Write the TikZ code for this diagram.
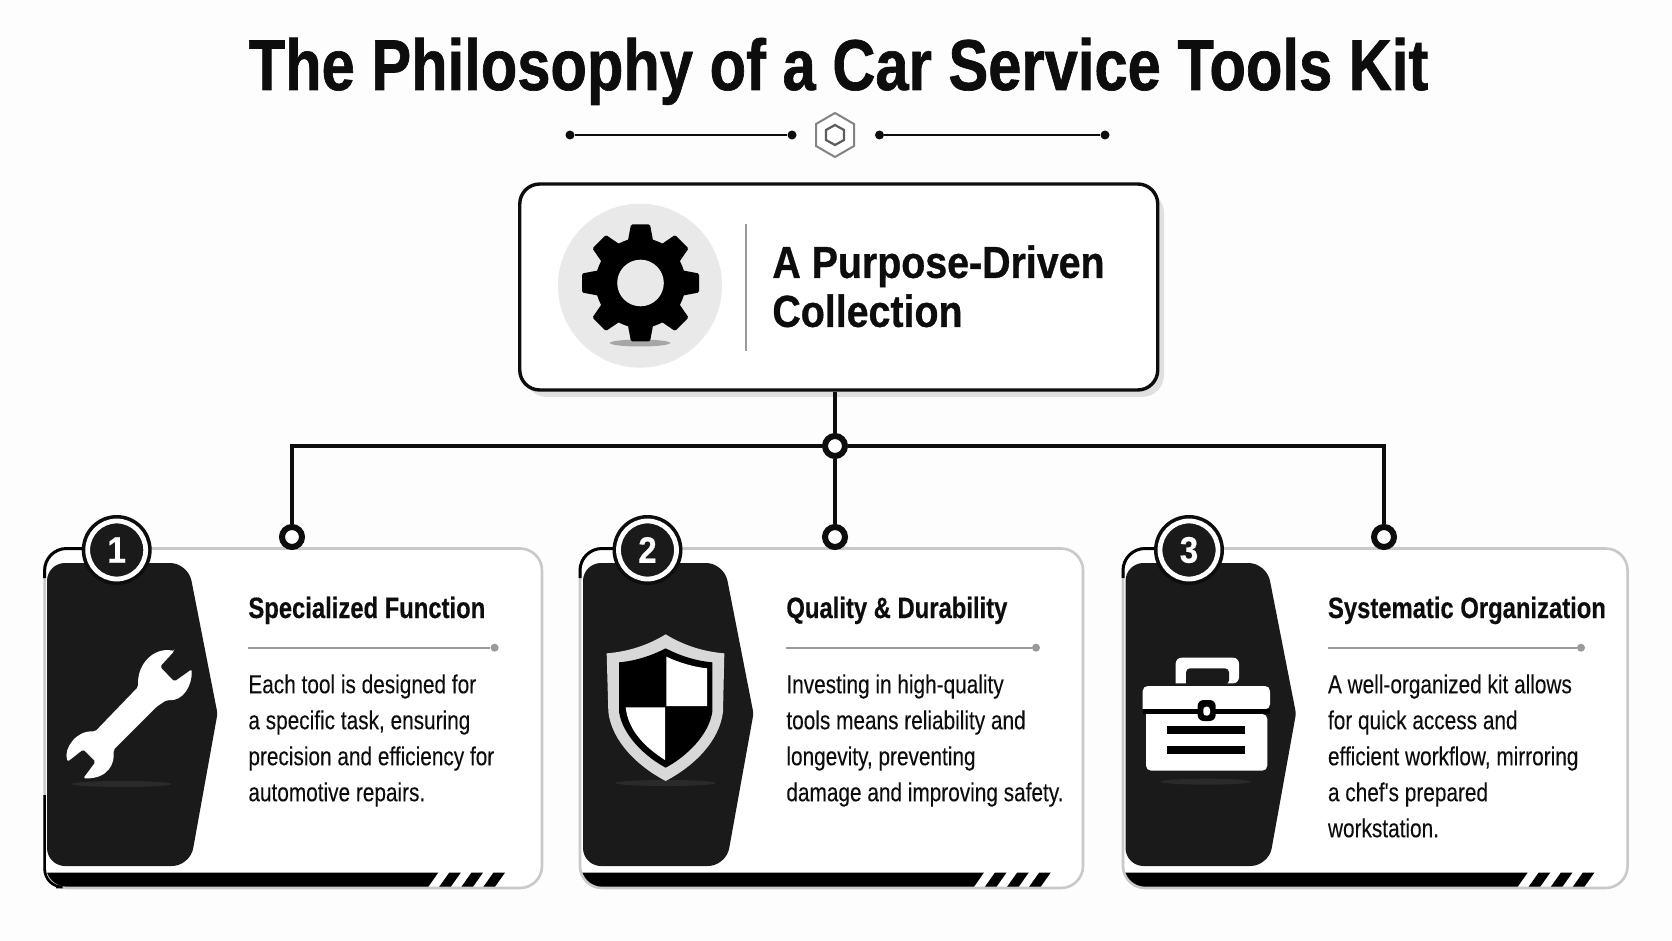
\documentclass[tikz,border=0pt]{standalone}
\usepackage{fontspec}
\usetikzlibrary{calc}
\setmainfont{Liberation Sans}
\newfontfamily\titlef[FakeStretch=.829,BoldFeatures={FakeBold=.9}]{Liberation Sans}
\newfontfamily\headf[FakeStretch=.81,BoldFeatures={FakeBold=.4}]{Liberation Sans}
\newfontfamily\mainf[FakeStretch=.878,BoldFeatures={FakeBold=.7}]{Liberation Sans}
\newfontfamily\badgef[FakeStretch=.9,BoldFeatures={FakeBold=.3}]{Liberation Sans}
\newfontfamily\bodyf[FakeStretch=.8,FakeBold=.1]{Liberation Sans}
\definecolor{pagebg}{HTML}{FDFDFD}
\definecolor{panelc}{HTML}{1A1A1A}
\definecolor{edgec}{HTML}{C9C9C9}
\definecolor{rulec}{HTML}{9A9A9A}
\definecolor{ink}{HTML}{0D0D0D}
\definecolor{soft}{HTML}{E9E9E9}
\definecolor{shieldc}{HTML}{D8D8D8}
\definecolor{glow}{HTML}{2A2A2A}
\tikzset{
  linkline/.style={draw=ink,line width=2.3pt},
  joint/.style={circle,draw=ink,fill=white,line width=3pt,minimum size=10pt,inner sep=0pt},
  orndot/.style={circle,fill=ink,minimum size=4.5pt,inner sep=0pt},
  ornline/.style={draw=ink,line width=1.2pt},
  ruledot/.style={circle,fill=rulec,minimum size=4pt,inner sep=0pt},
  ruleline/.style={draw=rulec,line width=1.1pt},
  headtext/.style={anchor=base west,inner sep=0pt,font=\headf\bfseries\fontsize{14.7}{18}\selectfont,text=ink},
  bodytext/.style={anchor=north west,inner sep=0pt,align=left,font=\bodyf\fontsize{13}{18}\selectfont,text=ink},
  badgeo/.style={circle,fill=ink,minimum size=35pt,inner sep=0pt},
  badgei/.style={circle,fill=panelc,draw=white,line width=2.4pt,minimum size=29pt,inner sep=0pt,text=white,font=\badgef\bfseries\fontsize{18.5}{18}\selectfont},
}
% card shell: #1 card left, #2 card right, #3 panel left, #4 bar end
\newcommand{\CardShell}[4]{%
  \fill[white,rounded corners=11pt] (#1,548.5) rectangle (#2,888);
  \begin{scope}
    \clip[rounded corners=11pt] (#1,548.5) rectangle (#2,888);
    \fill[black] (#1,872.5) -- (#4,872.5) -- ($(#4,887.5)+(-10.5,0)$) -- (#1,887.5) -- cycle;
    \foreach \s in {11,33.2,55.2}{
      \fill[black] ($(#4,872.5)+(\s,0)$) -- ++(11.6,0) -- ++(-10.6,15) -- ++(-11.6,0) -- cycle;
    }
  \end{scope}
  \draw[edgec,line width=1.3pt,rounded corners=11pt] (#1,548.5) rectangle (#2,888);
  \draw[black,line width=1.5pt,rounded corners=11pt] (#1,578) -- (#1,548.5) -- ($(#1,548.5)+(50,0)$);
  \fill[panelc,rounded corners=9pt] (#3,700) -- (#3,563)
     -- ($(#3,563)+(141,0)$) [rounded corners=1.5pt] -- ($(#3,713.5)+(170.5,0)$) [rounded corners=9pt]
     -- ($(#3,866)+(143,0)$) -- (#3,866) -- cycle;
}
\begin{document}
\begin{tikzpicture}[x=0.5pt,y=-0.5pt]
\useasboundingbox (0,0) rectangle (1672,941);
\fill[pagebg] (0,0) rectangle (1672,941);

% title
\node[anchor=base,inner sep=0pt,text=ink,font=\titlef\bfseries\fontsize{36}{40}\selectfont] (title) at (838.5,90) {The Philosophy of a Car Service Tools Kit};

% ornament
\node[orndot] (ol1) at (570,135) {};
\node[orndot] (ol2) at (792,135) {};
\node[orndot] (or1) at (879.5,135) {};
\node[orndot] (or2) at (1105,135) {};
\draw[ornline] (ol1) -- (ol2);
\draw[ornline] (or1) -- (or2);
\draw[rulec!85!black,line width=1pt,fill=white] (835,113) -- (854,124) -- (854,146) -- (835,157) -- (816,146) -- (816,124) -- cycle;
\draw[rulec!60!black,line width=1.1pt,fill=white] (835,125) -- (844,130) -- (844,140) -- (835,145) -- (826,140) -- (826,130) -- cycle;

% main box
\fill[black!12,rounded corners=11pt] (525,191) rectangle (1164,397);
\node[draw=ink,fill=white,line width=1.7pt,rounded corners=10pt,minimum width=319pt,minimum height=103pt,inner sep=0pt] (mainbox) at (838.75,287) {};
\fill[soft] (640,285.7) circle[radius=82];
\fill[black!35] (640,343) ellipse[x radius=30,y radius=3.5];
\fill[black] (640.5,283) circle[radius=45];
\foreach \a in {0,45,...,315}{
  \fill[black,rounded corners=0.7pt,rotate around={\a:(640.5,283)}] (627.5,243) -- (631,224.5) -- (650,224.5) -- (653.5,243) -- cycle;
}
\fill[soft] (640.5,283) circle[radius=23.3];
\draw[rulec,line width=0.8pt] (746,224) -- (746,351);
\node[anchor=north west,inner sep=0pt,align=left,text=ink,font=\mainf\bfseries\fontsize{22.4}{24.5}\selectfont] (maintext) at (772,245) {A Purpose-Driven\\Collection};

% cards
\CardShell{44.6}{542}{47}{438.3}
\draw[black,line width=1.3pt,rounded corners=9pt] (44.6,795) -- (44.6,887) -- (56,887);
\CardShell{580}{1083}{583}{984}
\CardShell{1123}{1627.6}{1125.5}{1527.7}

% card 1 content
\node[badgeo] (b1o) at (116.7,550) {};
\node[badgei] (b1) at (116.7,550) {1};
\fill[glow] (121.7,784) ellipse[x radius=50,y radius=3];
\begin{scope}[shift={(55,635)},scale=1/3]
\fill[white,rounded corners=1pt] (358,48) -- (315,95) -- (358,140) -- (410,103) .. controls (412,150) and (385,200) .. (335,195)
  -- (305,215) -- (175,345) .. controls (180,385) and (160,432) .. (85,430) -- (122,380) -- (85,343) -- (38,380)
  .. controls (25,340) and (65,285) .. (120,290) -- (250,155) .. controls (245,90) and (295,35) .. (358,48) -- cycle;
\end{scope}
\node[headtext] (h1) at (248,618) {Specialized Function};
\coordinate (r1a) at (248,647.7);
\node[ruledot] (r1b) at (494.6,647.7) {};
\draw[ruleline] (r1a) -- (r1b);
\node[bodytext] (t1) at (248,674) {Each tool is designed for\\a specific task, ensuring\\precision and efficiency for\\automotive repairs.};

% card 2 content
\node[badgeo] (b2o) at (647.5,550) {};
\node[badgei] (b2) at (647.5,550) {2};
\fill[glow] (665.7,783) ellipse[x radius=50,y radius=3];
\begin{scope}[shift={(595,625)},scale=1/3]
\fill[shieldc] (212,28) .. controls (160,60) and (100,80) .. (35,85) -- (40,260) .. controls (50,350) and (130,425) .. (212,468)
  .. controls (294,425) and (374,350) .. (384,260) -- (388,85) .. controls (324,80) and (264,60) .. (212,28) -- cycle;
\fill[black] (212,70) .. controls (170,92) and (120,108) .. (72,112) -- (72,260) .. controls (82,330) and (150,395) .. (212,428)
  .. controls (274,395) and (342,330) .. (352,260) -- (352,112) .. controls (304,108) and (254,92) .. (212,70) -- cycle;
\fill[white] (214,95) .. controls (250,112) and (295,126) .. (336,130) -- (336,243) -- (214,243) -- cycle;
\fill[white] (92,247) -- (210,247) -- (210,405) .. controls (155,370) and (100,320) .. (92,247) -- cycle;
\end{scope}
\node[headtext] (h2) at (786,618) {Quality \& Durability};
\coordinate (r2a) at (786,647.7);
\node[ruledot] (r2b) at (1036,647.7) {};
\draw[ruleline] (r2a) -- (r2b);
\node[bodytext] (t2) at (786,674) {Investing in high-quality\\tools means reliability and\\longevity, preventing\\damage and improving safety.};

% card 3 content
\node[badgeo] (b3o) at (1189,550) {};
\node[badgei] (b3) at (1189,550) {3};
\fill[glow] (1206,781.7) ellipse[x radius=45,y radius=3];
\begin{scope}[shift={(1130,645)},scale=1/3]
\fill[white,rounded corners=3pt] (137,115) -- (137,38) -- (327,38) -- (327,115) [sharp corners] -- cycle;
\fill[panelc,rounded corners=2pt] (168,118) -- (168,70) -- (297,70) -- (297,118) [sharp corners] -- cycle;
\fill[white,rounded corners=2.5pt] (38,193) -- (38,123) -- (420,123) -- (420,193) [sharp corners] -- cycle;
\fill[black] (38,193) rectangle (420,207);
\fill[white,rounded corners=2.5pt] (48,207) -- (48,377) -- (412,377) -- (412,207) [sharp corners] -- cycle;
\fill[black] (110,243) rectangle (346,266);
\fill[black] (110,303) rectangle (346,326);
\fill[black,rounded corners=3pt] (203,165) rectangle (257,228);
\fill[white,rounded corners=1.5pt] (220,185) rectangle (240,212);
\end{scope}
\node[headtext] (h3) at (1327.6,618) {Systematic Organization};
\coordinate (r3a) at (1327.6,647.7);
\node[ruledot] (r3b) at (1581,647.7) {};
\draw[ruleline] (r3a) -- (r3b);
\node[bodytext] (t3) at (1327.6,674) {A well-organized kit allows\\for quick access and\\efficient workflow, mirroring\\a chef's prepared\\workstation.};

% connectors
\node[joint] (hub) at (835,446) {};
\node[joint] (n1) at (292,537) {};
\node[joint] (n2) at (835,537) {};
\node[joint] (n3) at (1384,537) {};
\draw[linkline] (hub |- mainbox.south) -- (hub);
\draw[linkline] (hub) -- (n2);
\draw[linkline] (hub) -| (n1);
\draw[linkline] (hub) -| (n3);
\end{tikzpicture}
\end{document}
